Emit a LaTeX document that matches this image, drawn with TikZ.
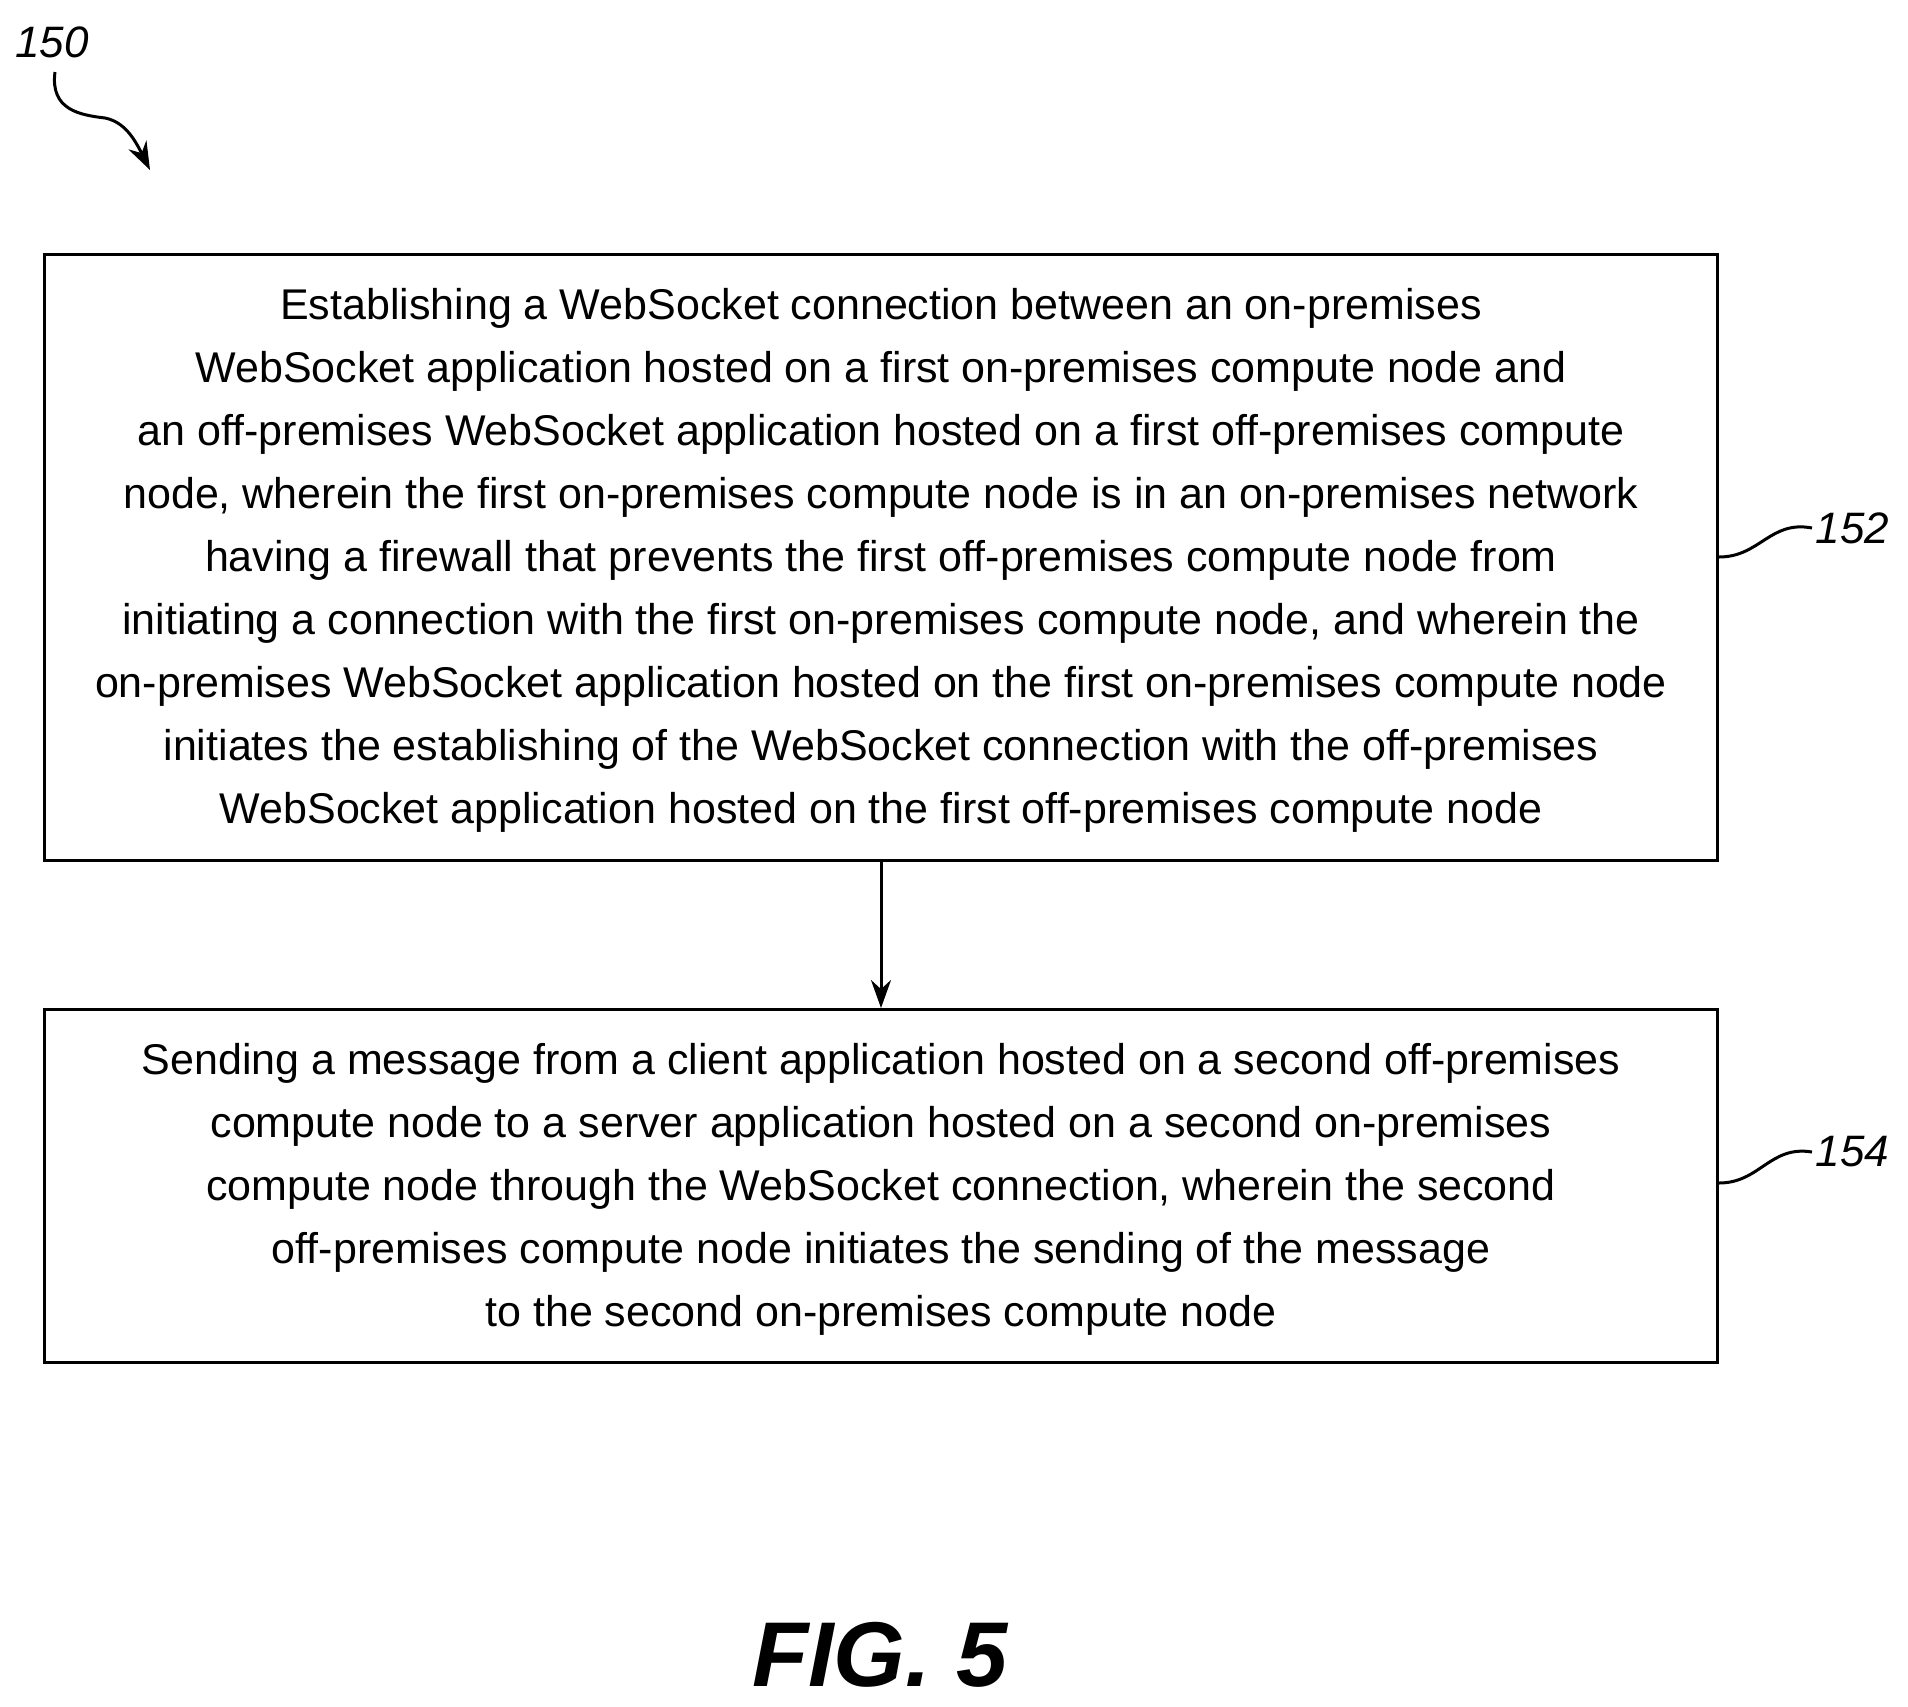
\documentclass[tikz,border=0pt]{standalone}
\usepackage{fontspec}
\setmainfont{Liberation Sans}
\usetikzlibrary{arrows.meta}
\begin{document}
\begin{tikzpicture}[x=1pt,y=-1pt,
 box/.style={draw,line width=3pt,minimum width=1673pt,anchor=north west,inner sep=0pt},
 txt/.style={font=\fontsize{43}{63}\selectfont,align=center},
 lbl/.style={font=\fontsize{44}{50}\selectfont\itshape}]
\useasboundingbox (0,0) rectangle (1908,1706);
\node[box,minimum height=606pt] (b1) at (43,253) {};
\node[box,minimum height=353pt] (b2) at (43,1008) {};
\node[txt] (t1) at ([yshift=-3pt]b1.center) {Establishing a WebSocket connection between an on-premises\\
WebSocket application hosted on a first on-premises compute node and\\
an off-premises WebSocket application hosted on a first off-premises compute\\
node, wherein the first on-premises compute node is in an on-premises network\\
having a firewall that prevents the first off-premises compute node from\\
initiating a connection with the first on-premises compute node, and wherein the\\
on-premises WebSocket application hosted on the first on-premises compute node\\
initiates the establishing of the WebSocket connection with the off-premises\\
WebSocket application hosted on the first off-premises compute node};
\node[txt] (t2) at ([yshift=-3pt]b2.center) {Sending a message from a client application hosted on a second off-premises\\
compute node to a server application hosted on a second on-premises\\
compute node through the WebSocket connection, wherein the second\\
off-premises compute node initiates the sending of the message\\
to the second on-premises compute node};
\draw[line width=3pt,-{Stealth[length=28pt,width=20pt]}] (b1.south) -- (b2.north);
\node[lbl,anchor=west] (l152) at (1812,528) {152};
\node[lbl,anchor=west] (l154) at (1812,1152) {154};
\draw[line width=3pt] (b1.east |- 0,557) .. controls (1760,557) and (1770,520) .. (l152.west);
\draw[line width=3pt] (b2.east |- 0,1183) .. controls (1760,1183) and (1770,1145) .. (l154.west);
\node[lbl,anchor=west] (l150) at (12,42) {150};
\coordinate (a150) at (150,170);
\draw[line width=3pt,-{Stealth[length=28pt,width=20pt]}] (55,72) .. controls (50,110) and (80,115) .. (105,118) .. controls (125,122) and (135,140) .. (a150);
\node[font=\fontsize{92}{100}\selectfont\bfseries\itshape] (fig) at (880,1655) {FIG. 5};
\end{tikzpicture}
\end{document}
